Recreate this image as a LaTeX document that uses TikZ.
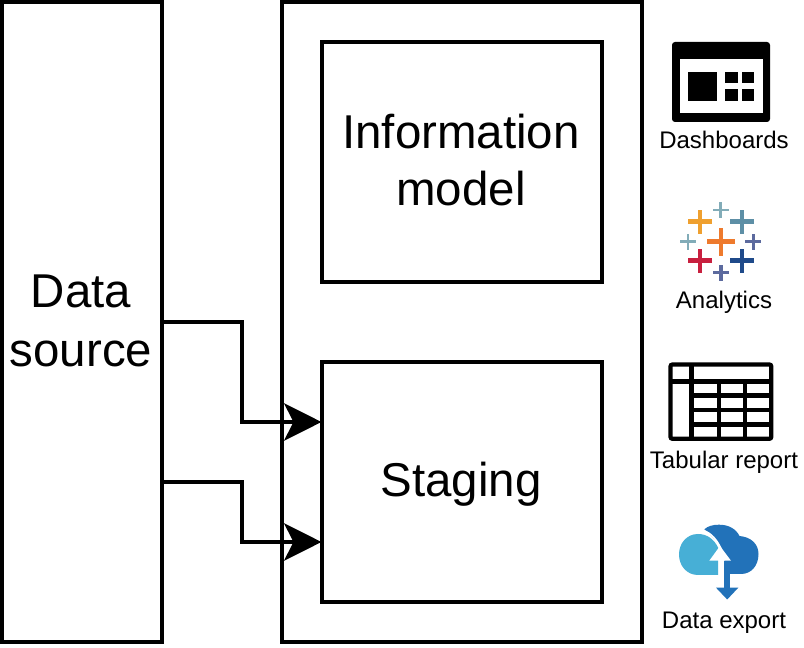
\documentclass[tikz,border=0pt]{standalone}
\usepackage{fontspec}
\setmainfont{Liberation Sans}
\usetikzlibrary{arrows.meta}
\newcommand{\nudge}[2]{\leavevmode\raisebox{#1}[0.75em][0.2em]{#2}\hspace*{1.5pt}}
\tikzset{
  px/.style={x=0.75pt,y=-0.75pt},
  box/.style={draw=black,line width=3pt,fill=white,inner sep=0pt,outer sep=0pt,align=center,
    font=\fontsize{35.6}{43.2}\selectfont},
  conn/.style={draw=black,line width=3pt,-{Stealth[length=28pt,width=28pt,inset=7pt]},shorten >=0.4pt},
  lbl/.style={inner sep=0pt,outer sep=0pt,anchor=base,font=\fontsize{18}{21.6}\selectfont},
}
\newcommand{\tabcross}[5]{% x y half thick colour
  \fill[#5] ({#1-#3},{#2-#4/2}) rectangle ({#1+#3},{#2+#4/2});
  \fill[#5] ({#1-#4/2},{#2-#3}) rectangle ({#1+#4/2},{#2+#3});
}
\definecolor{tabyel}{HTML}{EFA02F}
\definecolor{tabteal}{HTML}{5D8FA6}
\definecolor{tabpale}{HTML}{82ACB8}
\definecolor{taborg}{HTML}{EE7A2D}
\definecolor{tabpur}{HTML}{5C6A9E}
\definecolor{tabred}{HTML}{C8203F}
\definecolor{tabnavy}{HTML}{1F4A8A}
\definecolor{cldark}{HTML}{2272B9}
\definecolor{cllight}{HTML}{47AFD6}
\begin{document}
\begin{tikzpicture}[px]
\useasboundingbox (0,0) rectangle (804,648);
\fill[white] (0,0) rectangle (804,648);
% boxes
\node[box,minimum width=120pt,minimum height=480pt] (ds) at (82,322) {\nudge{-1.15pt}{Data}\\\nudge{-1.9pt}{source}};
\node[box,minimum width=270pt,minimum height=480pt] (main) at (462,322) {};
\node[box,minimum width=210pt,minimum height=180pt] (info) at (462,162) {\nudge{-1.8pt}{Information}\\\nudge{-1.45pt}{model}};
\node[box,minimum width=210pt,minimum height=180pt] (stag) at (462,482) {\nudge{-0.75pt}{Staging}};
% connectors
\coordinate (o1) at (162,322);
\coordinate (o2) at (162,482);
\coordinate (i1) at (322,422);
\coordinate (i2) at (322,542);
\coordinate (m1) at (242,372);
\coordinate (m2) at (242,512);
\draw[conn] (ds.east |- o1) -| (m1) |- (stag.west |- i1);
\draw[conn] (ds.east |- o2) -| (m2) |- (stag.west |- i2);
% dashboard icon
\fill[black,rounded corners=2.25pt] (672,42) rectangle (770,122);
\fill[white] (680,59) rectangle (762.5,113);
\fill[black] (688,72) rectangle (717,101);
\fill[black] (725,72) rectangle (738,83.5);
\fill[black] (742,72) rectangle (754,83.5);
\fill[black] (725,89) rectangle (738,101);
\fill[black] (742,89) rectangle (754,101);
\node[lbl] (l1) at (724,149) {Dashboards};
% tableau icon
\tabcross{720.7}{210}{8}{2.8}{tabpale}
\tabcross{700}{221.7}{12}{4.4}{tabyel}
\tabcross{742}{221.7}{12}{4.4}{tabteal}
\tabcross{688}{241.7}{8}{2.8}{tabpale}
\tabcross{721}{241.7}{14}{4.8}{taborg}
\tabcross{753.3}{241.7}{8}{3.2}{tabpur}
\tabcross{700}{260.7}{12}{4.4}{tabred}
\tabcross{742}{260.7}{12}{4.4}{tabnavy}
\tabcross{721}{272.7}{8}{3.2}{tabpur}
\node[lbl] (l2) at (724,309) {Analytics};
% table icon
\draw[black,line width=3.2pt,rounded corners=1.5pt] (670.5,364.5) rectangle (771.3,438.8);
\draw[black,line width=3.8pt] (670.5,381.7) -- (771.3,381.7);
\draw[black,line width=3.6pt] (691.8,364.5) -- (691.8,438.8);
\draw[black,line width=3.5pt] (691.8,395.8) -- (771.3,395.8);
\draw[black,line width=3.5pt] (691.8,410) -- (771.3,410);
\draw[black,line width=3.5pt] (691.8,424.5) -- (771.3,424.5);
\draw[black,line width=3.2pt] (718.8,381.7) -- (718.8,438.8);
\draw[black,line width=3.2pt] (745,381.7) -- (745,438.8);
\node[lbl] (l3) at (724,469) {Tabular report};
% cloud icon
\fill[cldark] (704.3,529.3) .. controls (708,526) and (713,524.7) .. (719,524.7)
  .. controls (729,524.7) and (736,529) .. (739.5,536)
  .. controls (751,537) and (758.5,544) .. (758.5,554)
  .. controls (758.5,566) and (751,574) .. (741,574)
  -- (722,574) -- (722,550) -- (716,541) -- cycle;
\fill[cllight] (698,534) .. controls (707,534) and (714,539) .. (718.3,548)
  -- (718.3,575) -- (698,575) .. controls (687,575) and (679,566) .. (679,554.5)
  .. controls (679,543) and (687,534) .. (698,534) -- cycle;
\draw[white,line width=1.4pt] (703,530.5) .. controls (711,533) and (717,540) .. (721,549);
\fill[white] (720,546) -- (731,560.7) -- (724.3,560.7) -- (724.3,575) -- (718.3,575) -- (718.3,560.7) -- (709.3,560.7) -- cycle;
\fill[cldark] (724.3,560.7) rectangle (730.3,588);
\fill[cldark] (716,587.7) -- (738.3,587.7) -- (727.2,599.5) -- cycle;
\node[lbl] (l4) at (724,628.3) {Data export};
\end{tikzpicture}
\end{document}
